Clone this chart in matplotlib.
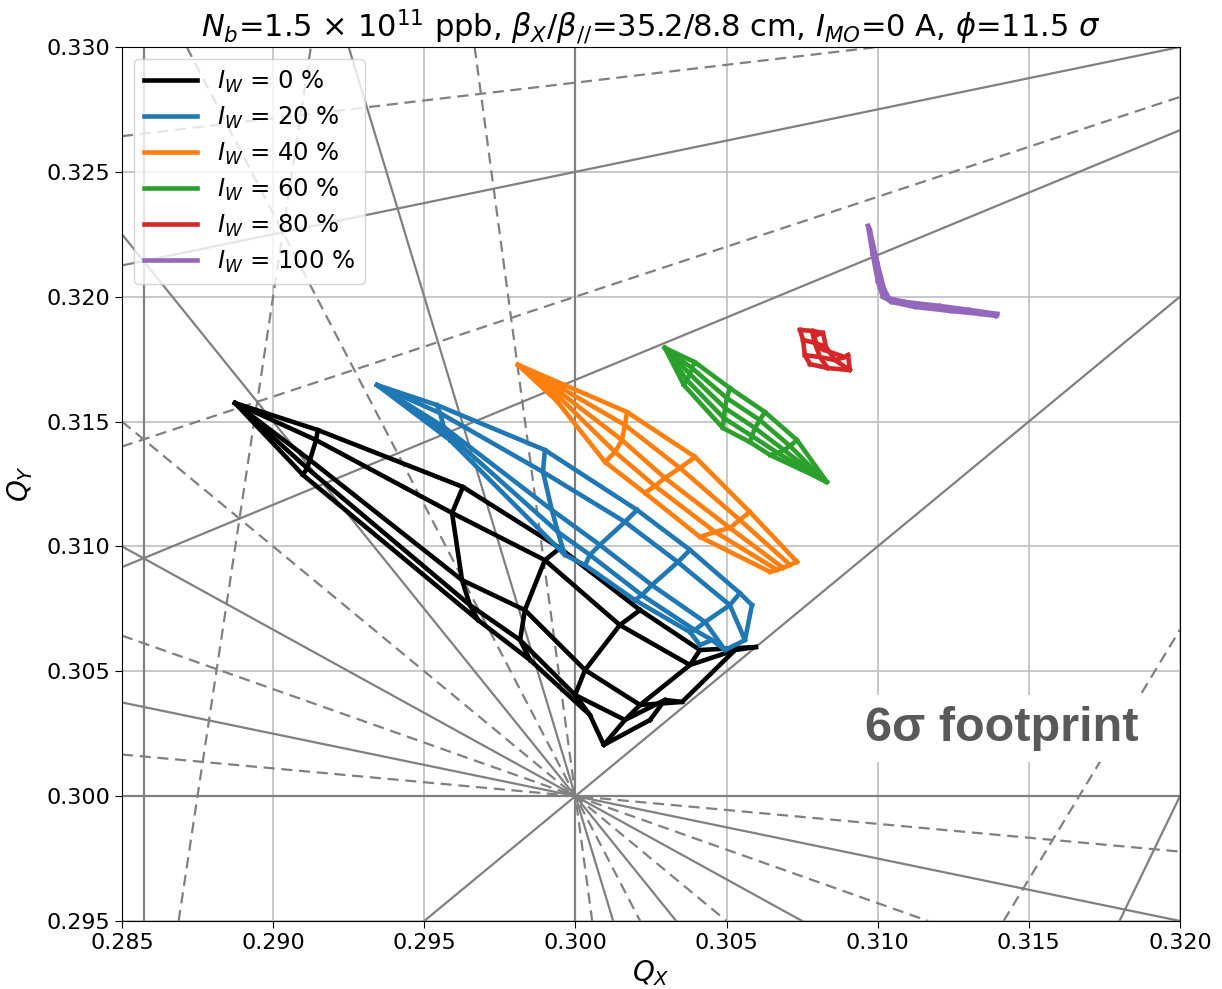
import numpy as np
import matplotlib.pyplot as plt
from matplotlib.lines import Line2D

# resonance lines  m*Qx + n*Qy = p  (up to 10th order)
res_m = [0, 1, 2, 3, 4, 5, 6, 7, 8, 9, 10, 2, -1, -2, -1, 8, -3, 6, 5, 7]
res_n = [10, 9, 8, 7, 6, 5, 4, 3, 2, 1, 0, -2, 4, 5, 7, -1, 6, -3, -2, 0]
res_p = [3, 3, 3, 3, 3, 3, 3, 3, 3, 3, 3, 0, 1, 1, 2, 2, 1, 1, 1, 2]

# footprints: rows = amplitude, columns = angle
black_qx = [[0.28874] * 5,
            [0.29148, 0.29142, 0.29122, 0.29112, 0.29099],
            [0.29628, 0.29592, 0.29625, 0.29651, 0.29678],
            [0.29949, 0.29899, 0.29833, 0.29817, 0.29850],
            [0.30214, 0.30147, 0.30032, 0.29999, 0.30048],
            [0.30412, 0.30379, 0.30214, 0.30164, 0.30094],
            [0.30597, 0.30528, 0.30353, 0.30296, 0.30247]]
black_qy = [[0.31574] * 5,
            [0.31466, 0.31426, 0.31346, 0.31314, 0.31286],
            [0.31238, 0.31134, 0.30865, 0.30765, 0.30705],
            [0.30993, 0.30945, 0.30745, 0.30625, 0.30545],
            [0.30745, 0.30685, 0.30505, 0.30405, 0.30325],
            [0.30585, 0.30525, 0.30365, 0.30305, 0.30205],
            [0.30597, 0.30585, 0.30377, 0.30385, 0.30305]]

blue_qx = [[0.29344] * 5,
           [0.29542, 0.29552, 0.29565, 0.29575, 0.29585],
           [0.29899, 0.29893, 0.29922, 0.29942, 0.29965],
           [0.30204, 0.30164, 0.30081, 0.30048, 0.30032],
           [0.30379, 0.30339, 0.30253, 0.30220, 0.30197],
           [0.30544, 0.30511, 0.30429, 0.30395, 0.30379],
           [0.30584, 0.30561, 0.30495, 0.30452, 0.30412]]
blue_qy = [[0.31646] * 5,
           [0.31566, 0.31534, 0.31478, 0.31454, 0.31426],
           [0.31386, 0.31298, 0.31146, 0.31058, 0.30966],
           [0.31146, 0.31098, 0.31006, 0.30966, 0.30925],
           [0.30986, 0.30937, 0.30845, 0.30805, 0.30785],
           [0.30813, 0.30765, 0.30697, 0.30665, 0.30657],
           [0.30765, 0.30625, 0.30585, 0.30625, 0.30605]]

orange_qx = [[0.29810] * 5,
             [0.29965, 0.29959, 0.29952, 0.29946, 0.29939],
             [0.30171, 0.30164, 0.30154, 0.30131, 0.30098],
             [0.30396, 0.30346, 0.30296, 0.30263, 0.30230],
             [0.30577, 0.30544, 0.30511, 0.30462, 0.30412],
             [0.30733, 0.30710, 0.30687, 0.30667, 0.30644]]
orange_qy = [[0.31727] * 5,
             [0.31646, 0.31630, 0.31614, 0.31598, 0.31582],
             [0.31538, 0.31486, 0.31426, 0.31378, 0.31338],
             [0.31358, 0.31314, 0.31274, 0.31242, 0.31214],
             [0.31138, 0.31106, 0.31074, 0.31058, 0.31038],
             [0.30938, 0.30926, 0.30914, 0.30906, 0.30898]]

green_qx = [[0.30296] * 5,
            [0.30395, 0.30386, 0.30379, 0.30369, 0.30359],
            [0.30511, 0.30501, 0.30495, 0.30491, 0.30488],
            [0.30627, 0.30610, 0.30594, 0.30584, 0.30577],
            [0.30733, 0.30710, 0.30690, 0.30670, 0.30644],
            [0.30832, 0.30825, 0.30819, 0.30812, 0.30806]]
green_qy = [[0.31795] * 5,
            [0.31738, 0.31714, 0.31690, 0.31666, 0.31646],
            [0.31634, 0.31594, 0.31554, 0.31514, 0.31474],
            [0.31538, 0.31506, 0.31474, 0.31442, 0.31418],
            [0.31426, 0.31402, 0.31386, 0.31374, 0.31366],
            [0.31258, 0.31262, 0.31266, 0.31270, 0.31274]]

red_qx = [[0.30743, 0.30783, 0.30819, 0.30789],
          [0.30753, 0.30792, 0.30829, 0.30802],
          [0.30759, 0.30809, 0.30859, 0.30892],
          [0.30776, 0.30835, 0.30908, 0.30902]]
red_qy = [[0.31867, 0.31863, 0.31855, 0.31843],
          [0.31827, 0.31815, 0.31799, 0.31795],
          [0.31766, 0.31758, 0.31746, 0.31758],
          [0.31730, 0.31714, 0.31706, 0.31766]]

purple_qx = [[0.30968, 0.30984, 0.31001, 0.31017, 0.31090, 0.31206, 0.31305, 0.31395],
             [0.30971, 0.30991, 0.31011, 0.31031, 0.31107, 0.31222, 0.31322, 0.31395],
             [0.30974, 0.30998, 0.31021, 0.31044, 0.31123, 0.31239, 0.31338, 0.31391]]
purple_qy = [[0.32283, 0.32167, 0.32059, 0.31999, 0.31979, 0.31963, 0.31947, 0.31931],
             [0.32275, 0.32155, 0.32047, 0.31991, 0.31967, 0.31951, 0.31939, 0.31927],
             [0.32267, 0.32139, 0.32031, 0.31979, 0.31959, 0.31943, 0.31931, 0.31923]]

wire_pct = [0, 20, 40, 60, 80, 100]
colors = ['black', '#1f77b4', '#ff7f0e', '#2ca02c', '#d62728', '#9467bd']
meshes = [(black_qx, black_qy), (blue_qx, blue_qy), (orange_qx, orange_qy),
          (green_qx, green_qy), (red_qx, red_qy), (purple_qx, purple_qy)]

fig = plt.figure(figsize=(12.22, 9.89), dpi=100)
ax = fig.add_axes([0.0998, 0.0688, 0.8658, 0.8837])

# resonance lines
for m, n, p in zip(res_m, res_n, res_p):
    ls = '-' if n % 2 == 0 else (0, (5, 3))
    kw = dict(color='#808080', lw=1.6, ls=ls, zorder=1)
    if n == 0:
        ax.axvline(p / m, **kw)
    else:
        ax.axline((0, p / n), slope=-m / n, **kw)

# footprints
for (qx, qy), c in zip(meshes, colors):
    qx = np.array(qx)
    qy = np.array(qy)
    for i in range(qx.shape[0]):
        ax.plot(qx[i], qy[i], color=c, lw=3.3, solid_joinstyle='round', zorder=3)
    for j in range(qx.shape[1]):
        ax.plot(qx[:, j], qy[:, j], color=c, lw=3.3, solid_joinstyle='round', zorder=3)

ax.set_xlim(0.285, 0.320)
ax.set_ylim(0.295, 0.330)
ax.set_xticks(np.arange(0.285, 0.3201, 0.005))
ax.set_yticks(np.arange(0.295, 0.3301, 0.005))
ax.xaxis.set_major_formatter(plt.FormatStrFormatter('%.3f'))
ax.yaxis.set_major_formatter(plt.FormatStrFormatter('%.3f'))
ax.tick_params(labelsize=16, length=5)
ax.grid(True, color='#c4c4c4', lw=1.3, zorder=0)
ax.set_axisbelow(True)

ax.set_xlabel('$Q_X$', fontsize=20, labelpad=4)
ax.set_ylabel('$Q_Y$', fontsize=20, labelpad=8)
ax.set_title(r'$N_b$=1.5 × $10^{11}$ ppb, $\beta_X/\beta_{//}$=35.2/8.8 cm, '
             r'$I_{MO}$=0 A, $\phi$=11.5 $\sigma$', fontsize=22, pad=7)

handles = [Line2D([], [], color=c, lw=3.3) for c in colors]
labels = [f'$I_W$ = {w} %' for w in wire_pct]
ax.legend(handles, labels, loc='upper left', fontsize=17.5, handlelength=2.2,
          borderaxespad=0.5, labelspacing=0.4)

fig.text(0.7079, 0.2508, '6σ footprint', fontsize=35, fontweight='bold',
         family=['Liberation Sans', 'DejaVu Sans'], color='#595959', va='baseline',
         bbox=dict(facecolor='white', edgecolor='none', pad=8))

fig.savefig('out.png', dpi=100)
